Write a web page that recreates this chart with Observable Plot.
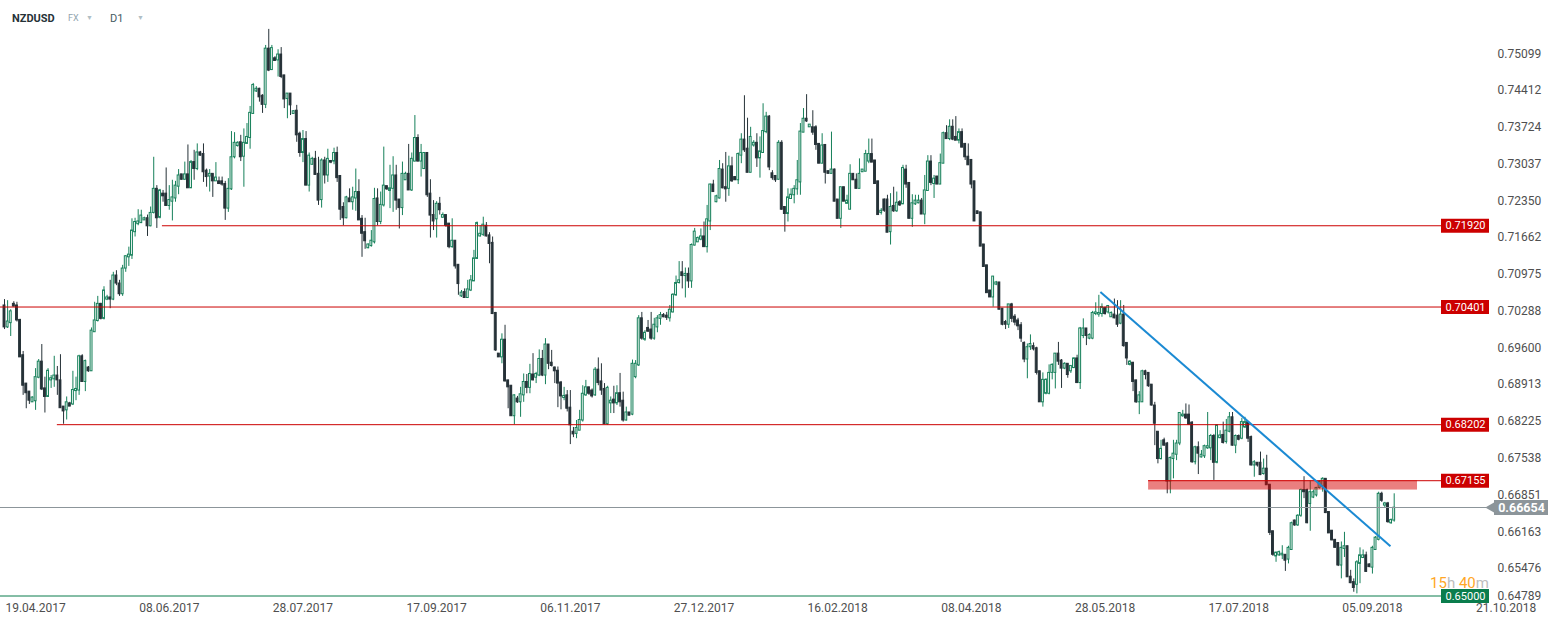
<!DOCTYPE html>
<html><head><meta charset="utf-8">
<script src="https://cdn.jsdelivr.net/npm/d3@7"></script>
<script src="https://cdn.jsdelivr.net/npm/@observablehq/plot@0.6"></script>
<style>
html,body{margin:0;padding:0;background:#fff;}
#wrap{position:relative;width:1557px;height:630px;overflow:hidden;font-family:Roboto,"Open Sans",sans-serif;}
#wrap svg{position:absolute;left:0;top:0;}
.ov{position:absolute;white-space:nowrap;line-height:1;}
</style></head><body>
<div id="wrap">
  <div class="ov" style="left:12px;top:13px;font-size:11px;font-weight:700;color:#263238;">NZDUSD</div>
  <div class="ov" style="left:68px;top:14px;font-size:9px;color:#90a4ae;">FX</div>
  <div class="ov" style="left:86px;top:15px;font-size:7px;color:#b0bec5;">▼</div>
  <div class="ov" style="left:110px;top:13px;font-size:11px;color:#455a64;">D1</div>
  <div class="ov" style="left:137px;top:15px;font-size:7px;color:#b0bec5;">▼</div>
  <div class="ov" style="left:1430px;top:576px;font-size:15px;"><span style="color:#ffa726">15</span><span style="color:#bdbdbd">h</span> <span style="color:#ffa726">40</span><span style="color:#bdbdbd">m</span></div>
</div>
<script>
// Daily NZDUSD candles, prices in 1/10000 (pips)
const open = [
7043,7002,7010,7046,7043,7016,6950,6897,6882,6862,
6864,6908,6938,6888,6872,6903,6905,6912,6903,6854,
6847,6860,6858,6883,6884,6948,6900,6927,6920,6993,
7014,7046,7018,7054,7058,7054,7099,7084,7064,7112,
7133,7136,7180,7195,7197,7202,7206,7191,7216,7261,
7207,7252,7252,7229,7237,7243,7265,7288,7278,7288,
7262,7311,7298,7329,7326,7295,7284,7289,7275,7275,
7275,7270,7224,7260,7320,7341,7348,7321,7345,7356,
7401,7443,7448,7435,7418,7523,7483,7505,7501,7512,
7473,7429,7439,7401,7407,7364,7328,7354,7267,7306,
7317,7289,7240,7314,7286,7313,7312,7328,7285,7227,
7206,7243,7236,7243,7255,7205,7180,7150,7154,7161,
7243,7199,7230,7266,7257,7261,7286,7241,7225,7277,
7289,7258,7312,7356,7312,7298,7328,7252,7212,7204,
7233,7207,7212,7196,7152,7164,7119,7060,7068,7057,
7071,7088,7130,7172,7175,7192,7174,7160,7029,6953,
6946,6979,6903,6893,6836,6869,6862,6875,6900,6889,
6914,6908,6912,6943,6912,6970,6936,6927,6921,6899,
6870,6875,6852,6807,6803,6809,6828,6875,6890,6884,
6875,6923,6901,6887,6821,6860,6867,6860,6879,6865,
6828,6843,6839,6909,6931,7019,6979,7001,6998,6981,
7002,7018,7025,7024,7019,7030,7062,7085,7105,7098,
7102,7088,7155,7161,7166,7172,7152,7200,7269,7236,
7243,7297,7264,7261,7303,7283,7277,7323,7353,7336,
7291,7342,7347,7318,7328,7367,7396,7290,7285,7278,
7347,7227,7214,7242,7249,7260,7273,7366,7392,7376,
7376,7376,7345,7308,7343,7294,7289,7297,7241,7205,
7264,7233,7222,7289,7278,7261,7292,7293,7312,7326,
7314,7275,7216,7241,7241,7180,7229,7219,7236,7232,
7297,7272,7205,7232,7234,7239,7213,7257,7312,7270,
7284,7269,7308,7365,7354,7377,7358,7351,7367,7345,
7321,7315,7275,7219,7217,7157,7118,7071,7058,7082,
7086,7037,7012,7007,7045,7022,7015,7006,6973,6942,
6965,6967,6963,6920,6862,6878,6878,6917,6917,6953,
6940,6925,6934,6920,6926,6944,6898,6986,7000,6981,
6981,7027,7026,7027,7038,7030,7021,7026,7024,7009,
7026,6973,6932,6936,6903,6862,6862,6920,6917,6895,
6856,6807,6756,6791,6785,6714,6756,6764,6785,6836,
6839,6839,6824,6750,6778,6759,6761,6776,6776,6799,
6749,6795,6801,6788,6807,6834,6781,6799,6794,6815,
6825,6797,6744,6749,6749,6728,6738,6708,6621,6574,
6576,6576,6577,6568,6586,6641,6632,6650,6698,6698,
6672,6684,6688,6702,6705,6719,6657,6622,6605,6599,
6557,6588,6593,6536,6526,6521,6560,6571,6576,6559,
6553,6586,6605,6691,6669,6673,6636,6641];
const high = [
7054,7052,7035,7050,7049,7017,6957,6897,6882,6872,
6925,6942,6970,6909,6925,6912,6948,6929,6951,6854,
6872,6862,6920,6909,6950,6951,6941,6929,7001,7049,
7060,7047,7078,7062,7090,7105,7108,7090,7118,7136,
7152,7205,7206,7222,7221,7208,7212,7227,7320,7267,
7260,7258,7300,7267,7277,7275,7297,7288,7311,7343,
7314,7333,7345,7331,7345,7298,7297,7289,7310,7283,
7283,7275,7280,7368,7366,7349,7361,7373,7383,7415,
7458,7452,7449,7437,7529,7559,7529,7508,7521,7525,
7473,7439,7439,7407,7417,7367,7370,7368,7328,7320,
7331,7320,7317,7320,7335,7314,7337,7339,7285,7235,
7247,7261,7264,7298,7278,7211,7206,7158,7183,7262,
7261,7255,7339,7266,7305,7321,7305,7241,7311,7292,
7344,7328,7398,7362,7344,7328,7328,7278,7239,7237,
7245,7216,7212,7196,7205,7164,7119,7071,7074,7090,
7099,7146,7199,7192,7208,7198,7179,7171,7030,6953,
6990,7006,6903,6893,6876,6873,6890,6915,6914,6933,
6953,6918,6960,6959,6981,6970,6959,6928,6928,6901,
6890,6884,6884,6815,6828,6847,6893,6903,6890,6887,
6927,6945,6934,6897,6892,6872,6892,6893,6916,6881,
6853,6843,6941,6940,7024,7030,6996,7015,7030,7019,
7024,7030,7028,7030,7043,7065,7098,7125,7125,7113,
7113,7158,7187,7171,7186,7199,7230,7270,7277,7249,
7314,7308,7329,7322,7320,7283,7328,7364,7435,7393,
7376,7351,7364,7358,7420,7404,7398,7295,7286,7351,
7351,7227,7261,7261,7267,7314,7383,7411,7437,7381,
7407,7379,7345,7364,7343,7294,7367,7298,7241,7264,
7264,7249,7306,7289,7289,7317,7297,7333,7354,7354,
7314,7275,7224,7242,7249,7252,7264,7255,7239,7305,
7305,7272,7250,7249,7249,7243,7286,7323,7323,7286,
7284,7326,7367,7379,7390,7390,7396,7373,7373,7345,
7345,7315,7275,7219,7217,7157,7118,7071,7097,7088,
7086,7037,7015,7045,7047,7026,7019,7011,6975,6971,
6988,6973,6965,6920,6917,6906,6932,6934,6953,6974,
6942,6936,6934,6930,6945,6950,7002,7018,7000,6990,
7032,7048,7062,7046,7040,7043,7031,7055,7052,7052,
7043,6973,6940,6936,6903,6882,6922,6922,6917,6895,
6862,6807,6791,6795,6787,6760,6791,6791,6843,6847,
6859,6857,6826,6780,6788,6772,6782,6843,6802,6802,
6820,6809,6825,6830,6843,6843,6801,6801,6832,6834,
6826,6799,6753,6749,6769,6756,6763,6708,6621,6582,
6584,6594,6577,6593,6638,6642,6652,6700,6723,6700,
6715,6698,6703,6715,6721,6719,6657,6622,6605,6599,
6601,6619,6593,6548,6532,6566,6590,6586,6582,6560,
6593,6611,6694,6694,6675,6675,6644,6691];
const low = [
6998,7000,6985,7040,7012,6946,6875,6850,6858,6862,
6847,6906,6884,6842,6871,6888,6890,6875,6851,6821,
6829,6854,6856,6865,6875,6900,6882,6918,6920,6993,
7012,7016,7016,7052,7037,7052,7080,7060,7060,7105,
7116,7129,7171,7192,7196,7202,7172,7190,7214,7187,
7205,7236,7229,7221,7201,7236,7250,7277,7277,7262,
7262,7277,7295,7322,7273,7264,7255,7245,7275,7269,
7266,7202,7217,7258,7317,7339,7312,7264,7345,7335,
7401,7441,7423,7402,7411,7480,7482,7499,7470,7467,
7411,7392,7398,7401,7348,7320,7310,7267,7255,7305,
7287,7230,7225,7270,7273,7308,7306,7273,7202,7192,
7205,7236,7221,7219,7202,7133,7148,7149,7152,7158,
7192,7194,7227,7258,7224,7217,7221,7186,7211,7277,
7258,7256,7311,7311,7283,7297,7245,7169,7183,7169,
7212,7206,7189,7149,7150,7111,7062,7058,7057,7056,
7069,7088,7129,7171,7172,7171,7121,7026,6957,6946,
6934,6900,6850,6836,6820,6860,6834,6862,6878,6878,
6902,6897,6910,6910,6895,6923,6928,6897,6852,6848,
6865,6844,6783,6796,6794,6809,6825,6873,6875,6870,
6873,6893,6875,6821,6819,6841,6841,6856,6853,6825,
6827,6837,6837,6906,6929,6978,6976,6993,6978,6978,
6992,7006,7020,7015,7012,7029,7060,7083,7074,7057,
7075,7075,7154,7161,7164,7152,7141,7183,7255,7235,
7242,7261,7236,7247,7273,7277,7269,7308,7329,7291,
7291,7339,7301,7281,7328,7364,7295,7277,7273,7277,
7221,7180,7199,7242,7233,7249,7249,7366,7385,7376,
7361,7333,7308,7308,7270,7289,7289,7237,7205,7187,
7237,7233,7222,7277,7261,7261,7292,7293,7308,7310,
7270,7212,7212,7217,7179,7156,7217,7217,7228,7232,
7262,7205,7189,7230,7233,7213,7194,7257,7267,7243,
7269,7269,7308,7354,7351,7351,7351,7345,7338,7314,
7305,7261,7200,7214,7153,7115,7066,7058,7040,7080,
7035,7005,6998,7000,7011,7005,6996,6974,6936,6906,
6959,6958,6913,6862,6853,6876,6876,6904,6887,6931,
6888,6923,6907,6916,6925,6897,6886,6981,6968,6979,
6979,7024,7021,7021,7025,7027,7021,7018,7002,7007,
6965,6931,6930,6882,6860,6839,6862,6904,6890,6855,
6781,6747,6754,6780,6691,6691,6719,6753,6781,6834,
6830,6820,6748,6745,6727,6758,6757,6774,6753,6716,
6747,6794,6784,6784,6805,6780,6766,6790,6792,6813,
6787,6743,6722,6741,6725,6726,6707,6613,6574,6563,
6574,6568,6546,6560,6585,6630,6630,6647,6682,6635,
6621,6682,6685,6700,6694,6654,6617,6603,6590,6555,
6532,6572,6535,6523,6507,6504,6523,6570,6545,6553,
6541,6585,6603,6675,6665,6636,6634,6638];
const close = [
7002,7013,7032,7041,7015,6946,6893,6879,6865,6871,
6909,6938,6886,6872,6921,6907,6912,6903,6851,6845,
6862,6854,6885,6887,6948,6900,6939,6920,6996,7015,
7046,7018,7071,7058,7054,7099,7084,7064,7112,7135,
7138,7183,7199,7200,7211,7206,7191,7216,7261,7206,
7258,7247,7229,7240,7245,7267,7286,7278,7288,7262,
7311,7298,7329,7323,7292,7283,7289,7275,7282,7270,
7269,7224,7261,7320,7347,7347,7320,7347,7358,7403,
7455,7448,7432,7418,7523,7482,7524,7500,7512,7470,
7428,7439,7417,7406,7361,7328,7354,7267,7323,7317,
7287,7239,7314,7286,7317,7310,7328,7281,7222,7206,
7245,7236,7245,7255,7202,7177,7163,7157,7164,7242,
7199,7231,7267,7260,7262,7286,7239,7225,7289,7289,
7258,7317,7356,7312,7328,7328,7249,7211,7200,7233,
7221,7212,7192,7152,7164,7116,7083,7067,7057,7073,
7090,7131,7197,7177,7194,7172,7158,7027,6959,6946,
6979,6901,6890,6836,6875,6862,6877,6900,6889,6915,
6903,6915,6943,6912,6970,6934,6930,6920,6897,6873,
6874,6850,6819,6802,6814,6829,6878,6890,6878,6873,
6923,6898,6884,6821,6889,6865,6860,6879,6862,6828,
6843,6837,6934,6934,7019,6981,6992,6994,6981,7007,
7019,7025,7021,7020,7035,7063,7085,7090,7098,7102,
7088,7156,7181,7169,7172,7152,7204,7269,7255,7247,
7298,7262,7260,7303,7275,7277,7326,7353,7333,7291,
7358,7347,7318,7331,7369,7396,7301,7281,7277,7347,
7222,7214,7245,7250,7261,7277,7368,7392,7387,7381,
7366,7343,7308,7342,7291,7289,7297,7237,7205,7264,
7237,7239,7289,7277,7261,7289,7297,7326,7326,7310,
7270,7212,7220,7220,7179,7227,7219,7235,7230,7300,
7269,7205,7234,7239,7239,7213,7258,7312,7272,7280,
7269,7309,7365,7354,7377,7353,7351,7367,7338,7320,
7305,7269,7200,7214,7153,7115,7066,7058,7097,7086,
7035,7007,7007,7045,7018,7011,7004,6981,6942,6965,
6971,6961,6917,6862,6904,6904,6917,6932,6953,6938,
6925,6934,6913,6930,6944,6898,7000,7000,6986,6988,
7029,7030,7029,7040,7027,7042,7029,7019,7007,7026,
6967,6944,6938,6900,6862,6875,6920,6913,6892,6856,
6822,6756,6775,6781,6714,6758,6766,6785,6842,6839,
6832,6820,6750,6778,6766,6764,6780,6780,6799,6749,
6819,6800,6786,6809,6834,6781,6799,6792,6825,6825,
6794,6744,6750,6744,6726,6738,6707,6618,6577,6581,
6582,6579,6566,6590,6636,6632,6650,6698,6694,6636,
6694,6694,6702,6713,6719,6655,6617,6604,6590,6557,
6590,6593,6535,6524,6515,6563,6576,6576,6545,6554,
6590,6609,6691,6678,6673,6638,6642,6665];

// Axis labels
const xTickLabels = ["19.04.2017","08.06.2017","28.07.2017","17.09.2017","06.11.2017","27.12.2017","16.02.2018","08.04.2018","28.05.2018","17.07.2018","05.09.2018","21.10.2018"];
const xTickCandle = [10,53,96,139,182,225,268,311,354,397,440,483];
const yTickValues = [0.75099,0.74412,0.73724,0.73037,0.72350,0.71662,0.70975,0.70288,0.69600,0.68913,0.68225,0.67538,0.66851,0.66163,0.65476,0.64789];

// Annotations
const levelValue = [0.71920, 0.70401, 0.68202, 0.67155];
const levelFromCandle = [50.8, -Infinity, 17, 368];
const zoneTop = 0.67155, zoneBottom = 0.6698, zoneFromCandle = 368, zoneToCandle = 454.5;
const supportValue = 0.65000;
const lastPrice = 0.66654;
const trendCandle = [352.5, 445.8];
const trendPrice = [0.7068, 0.6593];

const GREEN = "#16805a", DARK = "#263238", RED = "#cc0000", BLUE = "#1b8ad3", GRAY = "#8c959a", LGREEN = "#0a7d4d", TXT = "#4f4f4f";

const n = Math.min(open.length, high.length, low.length, close.length);
const candles = d3.range(n).map(i => ({i, o: open[i]/1e4, h: high[i]/1e4, l: low[i]/1e4, c: close[i]/1e4}));
const up = candles.filter(d => d.c >= d.o), down = candles.filter(d => d.c < d.o);

// layout: first candle at px 4, last at px 1393.7, frame right at 1477
const step = (1393.7 - 4) / (n - 1);
const idxAt = px => (px - 4) / step;
const xDomain = [idxAt(0), idxAt(1477)];
const yDomain = [0.64916, 0.76130];
const bw = 0.3;

const levels = levelValue.map((v, k) => ({v, from: Math.max(levelFromCandle[k], xDomain[0])}));

const chart = Plot.plot({
  width: 1557, height: 630,
  marginLeft: 0, marginRight: 80, marginTop: 0, marginBottom: 30,
  x: {domain: xDomain, axis: null},
  y: {domain: yDomain, axis: null},
  style: {fontFamily: "Roboto, sans-serif", fontSize: "12px", background: "white", color: TXT},
  marks: [
    // candles
    Plot.ruleX(up, {x: "i", y1: "l", y2: "h", stroke: GREEN, strokeWidth: 1}),
    Plot.ruleX(down, {x: "i", y1: "l", y2: "h", stroke: DARK, strokeWidth: 1}),
    Plot.rect(up, {x1: d => d.i - bw, x2: d => d.i + bw, y1: "o", y2: "c", fill: "white", stroke: GREEN, strokeWidth: 1}),
    Plot.rect(down, {x1: d => d.i - bw, x2: d => d.i + bw, y1: "o", y2: "c", fill: DARK, stroke: DARK, strokeWidth: 1}),
    // current price line
    Plot.ruleY([lastPrice], {x1: xDomain[0], x2: idxAt(1486), stroke: GRAY, strokeWidth: 1}),
    // support 0.65
    Plot.ruleY([supportValue], {x1: xDomain[0], x2: idxAt(1441), stroke: LGREEN, strokeWidth: 1}),
    // resistance/support levels
    Plot.ruleY(levels, {y: "v", x1: "from", x2: idxAt(1441), stroke: RED, strokeWidth: 1}),
    // zone
    Plot.rect([0], {x1: zoneFromCandle, x2: zoneToCandle, y1: zoneBottom, y2: zoneTop, fill: "#d50000", fillOpacity: 0.5}),
    // trendline
    Plot.link([0], {x1: trendCandle[0], y1: trendPrice[0], x2: trendCandle[1], y2: trendPrice[1], stroke: BLUE, strokeWidth: 2}),
    // level label boxes
    Plot.ruleY(levelValue, {x1: idxAt(1441), x2: idxAt(1489), stroke: RED, strokeWidth: 14}),
    Plot.text(levelValue, {x: idxAt(1465), y: d => d, text: d => d.toFixed(5), fill: "white", fontSize: 11}),
    Plot.ruleY([supportValue], {x1: idxAt(1441), x2: idxAt(1489), stroke: LGREEN, strokeWidth: 14}),
    Plot.text([supportValue], {x: idxAt(1465), y: d => d, text: d => d.toFixed(5), fill: "white", fontSize: 11}),
    // current price label
    Plot.ruleY([lastPrice], {x1: idxAt(1494), x2: idxAt(1548), stroke: GRAY, strokeWidth: 15}),
    Plot.dot([lastPrice], {x: idxAt(1493.5), y: d => d, symbol: "triangle", r: 5.6, rotate: -90, fill: GRAY, stroke: null}),
    Plot.text([lastPrice], {x: idxAt(1521), y: d => d, text: d => d.toFixed(5), fill: "white", fontSize: 12.5, fontWeight: "bold"}),
    // y axis labels
    Plot.text(yTickValues.slice(0, -1), {y: d => d, frameAnchor: "right", dx: 20, dy: -2, textAnchor: "start", text: d => d.toFixed(5), fill: TXT, fontSize: 12}),
    Plot.text(yTickValues.slice(-1), {frameAnchor: "bottom-right", dx: 20, dy: -1, textAnchor: "start", text: d => d.toFixed(5), fill: TXT, fontSize: 12}),
    // x axis labels
    Plot.text(xTickLabels, {x: (d, k) => xTickCandle[k], frameAnchor: "bottom", dy: 11, text: d => d, fill: TXT, fontSize: 12})
  ]
});
document.getElementById("wrap").prepend(chart);
</script>
</body></html>
